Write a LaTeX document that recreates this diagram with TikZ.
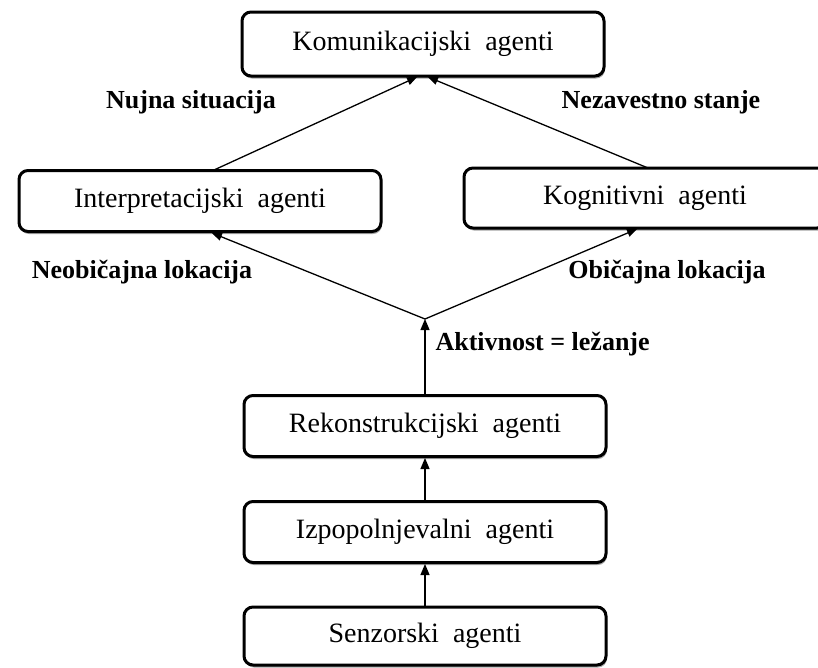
\documentclass[tikz,border=0pt]{standalone}
\usepackage{fontspec}
\setmainfont{Liberation Serif}
\usepackage{tikz}
\usetikzlibrary{arrows,shadows}

\tikzset{
	agentbox/.style={draw, line width=3pt, rounded corners=9pt, fill=white,
		minimum width=362pt, minimum height=61pt, inner sep=0pt,
		font=\fontsize{28}{33}\selectfont,
		drop shadow={shadow xshift=1pt, shadow yshift=-2.5pt, fill=gray!70, opacity=1}},
	edgelabel/.style={font=\fontsize{26}{30}\selectfont\bfseries, anchor=base},
	flow/.style={-triangle 45, line width=1.6pt},
	tilt/.style={-triangle 45, line width=1.3pt}
}

\begin{document}
\begin{tikzpicture}[x=1pt, y=-1pt]

	\useasboundingbox (0,0) rectangle (818,667);

	% the six boxes
	\node[agentbox, minimum height=64pt] (komun) at (423,44) {Komunikacijski \ agenti};
	\node[agentbox] (interp) at (200,201) {Interpretacijski \ agenti};
	\node[agentbox, minimum height=60pt] (kogn) at (645,198) {Kognitivni \ agenti};
	\node[agentbox] (rekon) at (425,426) {Rekonstrukcijski \ agenti};
	\node[agentbox] (izpop) at (425,532) {Izpopolnjevalni \ agenti};
	\node[agentbox, minimum height=58pt] (senz) at (425,636) {Senzorski \ agenti};

	% where the arrows meet
	\coordinate (split) at (425,319);
	\coordinate (interpIn) at (212,233);
	\coordinate (kognIn) at (637,229);
	\coordinate (interpOut) at (214,170);
	\coordinate (kognOut) at (648,168);
	\coordinate (komunInL) at (417,77);
	\coordinate (komunInR) at (428,77);

	\draw[flow] (senz.north) -- (izpop.south);
	\draw[flow] (izpop.north) -- (rekon.south);
	\draw[flow] (rekon.north) -- (split);
	\draw[tilt] (split) -- (interpIn);
	\draw[tilt] (split) -- (kognIn);
	\draw[tilt] (interpOut) -- (komunInL);
	\draw[tilt] (kognOut) -- (komunInR);

	% labels
	\node[edgelabel] (lNujna) at (191,108) {Nujna situacija};
	\node[edgelabel] (lNezav) at (661,108) {Nezavestno stanje};
	\node[edgelabel] (lNeob) at (142,278) {Neobičajna lokacija};
	\node[edgelabel] (lObic) at (667,278) {Običajna lokacija};
	\node[edgelabel, anchor=base west] (lAktiv) at (432,350) {Aktivnost = ležanje};

\end{tikzpicture}
\end{document}
